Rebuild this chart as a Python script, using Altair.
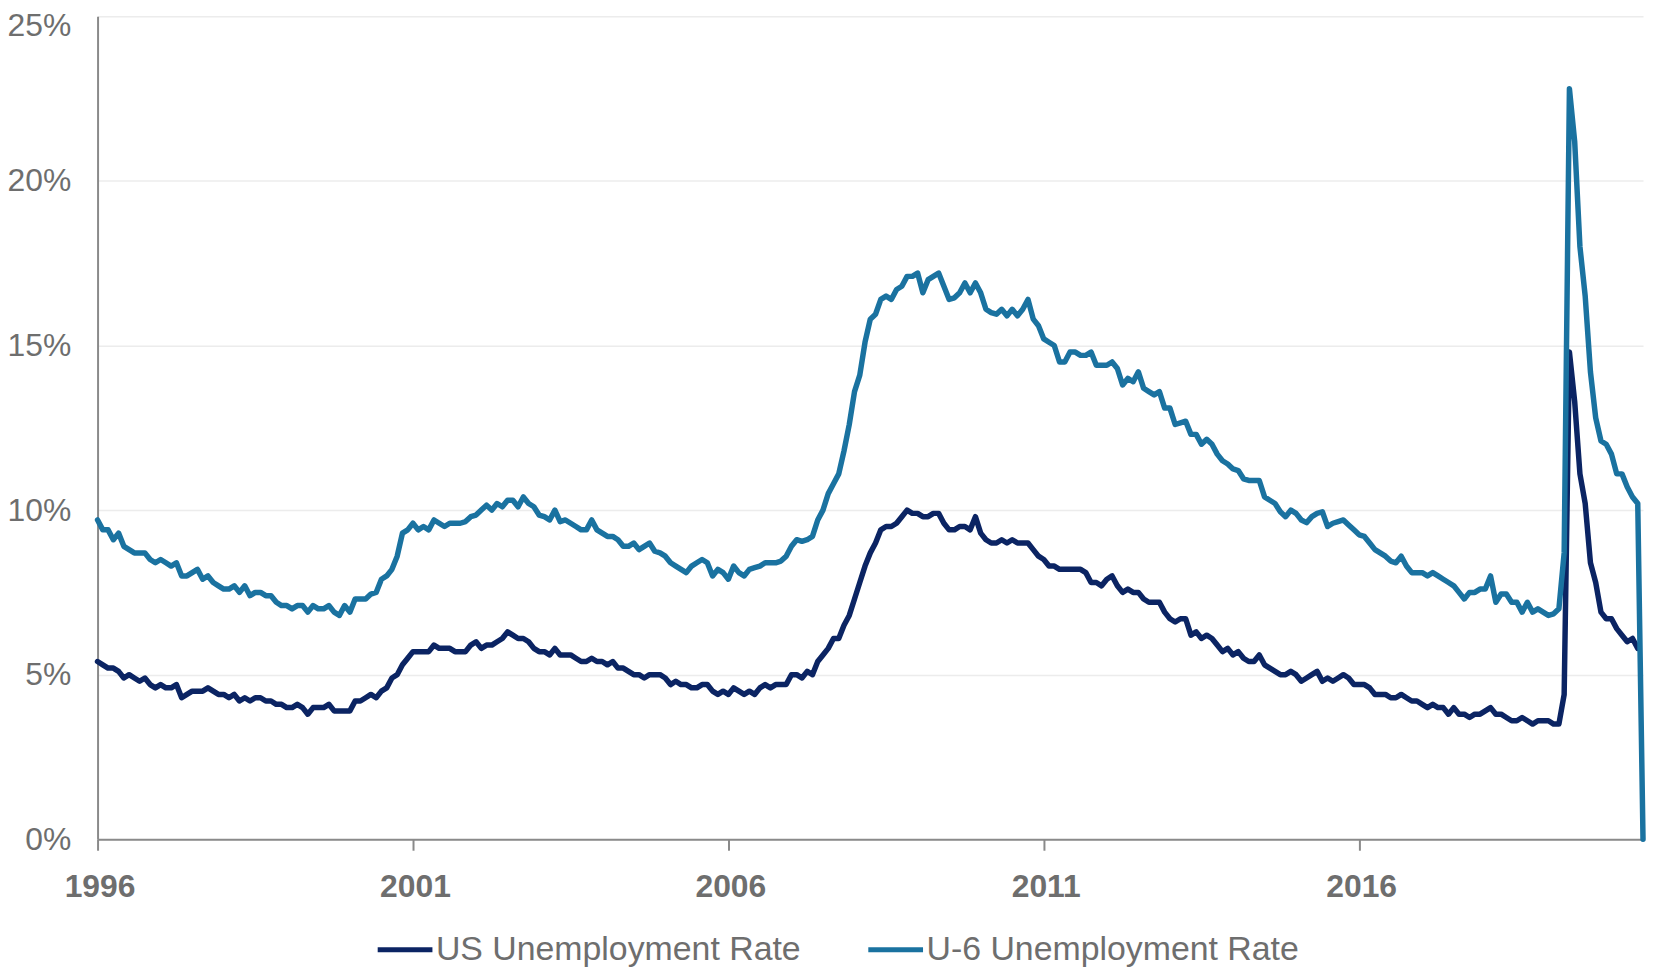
import altair as alt
import pandas as pd

series_names = ["US Unemployment Rate", "U-6 Unemployment Rate"]
series_colors = ["#0b2463", "#1a72a0"]

x_tick_labels = ["1996", "2001", "2006", "2011", "2016"]
x_tick_months = [0, 60, 120, 180, 240]
y_ticks = [0, 5, 10, 15, 20, 25]

# monthly values, Dec 1996 onward
us_rate = [
    5.4,
    5.3, 5.2, 5.2, 5.1, 4.9, 5.0, 4.9, 4.8, 4.9, 4.7, 4.6, 4.7,
    4.6, 4.6, 4.7, 4.3, 4.4, 4.5, 4.5, 4.5, 4.6, 4.5, 4.4, 4.4,
    4.3, 4.4, 4.2, 4.3, 4.2, 4.3, 4.3, 4.2, 4.2, 4.1, 4.1, 4.0,
    4.0, 4.1, 4.0, 3.8, 4.0, 4.0, 4.0, 4.1, 3.9, 3.9, 3.9, 3.9,
    4.2, 4.2, 4.3, 4.4, 4.3, 4.5, 4.6, 4.9, 5.0, 5.3, 5.5, 5.7,
    5.7, 5.7, 5.7, 5.9, 5.8, 5.8, 5.8, 5.7, 5.7, 5.7, 5.9, 6.0,
    5.8, 5.9, 5.9, 6.0, 6.1, 6.3, 6.2, 6.1, 6.1, 6.0, 5.8, 5.7,
    5.7, 5.6, 5.8, 5.6, 5.6, 5.6, 5.5, 5.4, 5.4, 5.5, 5.4, 5.4,
    5.3, 5.4, 5.2, 5.2, 5.1, 5.0, 5.0, 4.9, 5.0, 5.0, 5.0, 4.9,
    4.7, 4.8, 4.7, 4.7, 4.6, 4.6, 4.7, 4.7, 4.5, 4.4, 4.5, 4.4,
    4.6, 4.5, 4.4, 4.5, 4.4, 4.6, 4.7, 4.6, 4.7, 4.7, 4.7, 5.0,
    5.0, 4.9, 5.1, 5.0, 5.4, 5.6, 5.8, 6.1, 6.1, 6.5, 6.8, 7.3,
    7.8, 8.3, 8.7, 9.0, 9.4, 9.5, 9.5, 9.6, 9.8, 10.0, 9.9, 9.9,
    9.8, 9.8, 9.9, 9.9, 9.6, 9.4, 9.4, 9.5, 9.5, 9.4, 9.8, 9.3,
    9.1, 9.0, 9.0, 9.1, 9.0, 9.1, 9.0, 9.0, 9.0, 8.8, 8.6, 8.5,
    8.3, 8.3, 8.2, 8.2, 8.2, 8.2, 8.2, 8.1, 7.8, 7.8, 7.7, 7.9,
    8.0, 7.7, 7.5, 7.6, 7.5, 7.5, 7.3, 7.2, 7.2, 7.2, 6.9, 6.7,
    6.6, 6.7, 6.7, 6.2, 6.3, 6.1, 6.2, 6.1, 5.9, 5.7, 5.8, 5.6,
    5.7, 5.5, 5.4, 5.4, 5.6, 5.3, 5.2, 5.1, 5.0, 5.0, 5.1, 5.0,
    4.8, 4.9, 5.0, 5.1, 4.8, 4.9, 4.8, 4.9, 5.0, 4.9, 4.7, 4.7,
    4.7, 4.6, 4.4, 4.4, 4.4, 4.3, 4.3, 4.4, 4.3, 4.2, 4.2, 4.1,
    4.0, 4.1, 4.0, 4.0, 3.8, 4.0, 3.8, 3.8, 3.7, 3.8, 3.8, 3.9,
    4.0, 3.8, 3.8, 3.7, 3.6, 3.6, 3.7, 3.6, 3.5, 3.6, 3.6, 3.6,
    3.5, 3.5, 4.4, 14.8, 13.3, 11.1, 10.2, 8.4, 7.8, 6.9, 6.7, 6.7,
    6.4, 6.2, 6.0, 6.1, 5.8,
]

u6_rate = [
    9.7,
    9.4, 9.4, 9.1, 9.3, 8.9, 8.8, 8.7, 8.7, 8.7, 8.5, 8.4, 8.5,
    8.4, 8.3, 8.4, 8.0, 8.0, 8.1, 8.2, 7.9, 8.0, 7.8, 7.7, 7.6,
    7.6, 7.7, 7.5, 7.7, 7.4, 7.5, 7.5, 7.4, 7.4, 7.2, 7.1, 7.1,
    7.0, 7.1, 7.1, 6.9, 7.1, 7.0, 7.0, 7.1, 6.9, 6.8, 7.1, 6.9,
    7.3, 7.3, 7.3, 7.45, 7.5, 7.9, 8.0, 8.2, 8.6, 9.3, 9.4, 9.6,
    9.4, 9.5, 9.4, 9.7, 9.6, 9.5, 9.6, 9.6, 9.6, 9.65, 9.8, 9.85,
    10.0, 10.15, 10.0, 10.2, 10.1, 10.3, 10.3, 10.1, 10.4, 10.2, 10.1, 9.85,
    9.8, 9.7, 10.0, 9.65, 9.7, 9.6, 9.5, 9.4, 9.4, 9.7, 9.4, 9.3,
    9.2, 9.2, 9.1, 8.9, 8.9, 9.0, 8.8, 8.9, 9.0, 8.75, 8.7, 8.6,
    8.4, 8.3, 8.2, 8.1, 8.3, 8.4, 8.5, 8.4, 8.0, 8.2, 8.1, 7.9,
    8.3, 8.1, 8.0, 8.2, 8.25, 8.3, 8.4, 8.4, 8.4, 8.45, 8.6, 8.9,
    9.1, 9.05, 9.1, 9.2, 9.7, 10.0, 10.5, 10.8, 11.1, 11.8, 12.6, 13.6,
    14.1, 15.1, 15.8, 15.95, 16.4, 16.5, 16.4, 16.7, 16.8, 17.1, 17.1, 17.2,
    16.6, 17.0, 17.1, 17.2, 16.8, 16.4, 16.45, 16.6, 16.9, 16.6, 16.9, 16.6,
    16.1, 16.0, 15.95, 16.1, 15.9, 16.1, 15.9, 16.1, 16.4, 15.8, 15.6, 15.2,
    15.1, 15.0, 14.5, 14.5, 14.8, 14.8, 14.7, 14.7, 14.8, 14.4, 14.4, 14.4,
    14.5, 14.3, 13.8, 14.0, 13.9, 14.2, 13.7, 13.6, 13.5, 13.6, 13.1, 13.1,
    12.6, 12.65, 12.7, 12.3, 12.3, 12.0, 12.15, 12.0, 11.7, 11.5, 11.4, 11.25,
    11.2, 10.95, 10.9, 10.9, 10.9, 10.4, 10.3, 10.2, 9.95, 9.8, 10.0, 9.9,
    9.7, 9.62, 9.8, 9.9, 9.95, 9.5, 9.6, 9.65, 9.7, 9.55, 9.4, 9.25,
    9.2, 9.0, 8.8, 8.7, 8.6, 8.45, 8.4, 8.6, 8.3, 8.1, 8.1, 8.1,
    8.0, 8.1, 8.0, 7.9, 7.8, 7.7, 7.5, 7.3, 7.5, 7.5, 7.6, 7.6,
    8.0, 7.2, 7.45, 7.45, 7.2, 7.2, 6.9, 7.2, 6.9, 7.0, 6.9, 6.8,
    6.85, 7.0, 8.7, 22.8, 21.2, 18.0, 16.5, 14.2, 12.8, 12.1, 12.0, 11.7,
    11.1, 11.1, 10.7, 10.4, 10.2, 0.0,
]

rows = []
for name, vals in zip(series_names, [us_rate, u6_rate]):
    for i, v in enumerate(vals):
        rows.append({"month": i, "rate": v, "series": name})
df = pd.DataFrame(rows)

label_expr = ""
for m, lab in zip(x_tick_months, x_tick_labels):
    label_expr += f"datum.value == {m} ? '{lab}' : "
label_expr += "''"

FONT = "Liberation Sans"
GREY = "#6e6e6e"
AXIS_LINE = "#8a8a8a"

chart = alt.Chart(df).mark_line(
    strokeWidth=5.5, strokeJoin="round", strokeCap="round"
).encode(
    x=alt.X(
        "month:Q",
        scale=alt.Scale(domain=[0, len(u6_rate) - 1], nice=False, zero=False),
        axis=alt.Axis(
            values=x_tick_months, labelExpr=label_expr, title=None, grid=False,
            labelFontSize=32, labelFontWeight="bold", labelColor=GREY, labelFont=FONT,
            labelPadding=21, labelFlush=False, labelOverlap=False, labelOffset=2,
            tickSize=11, tickColor=AXIS_LINE, tickWidth=2,
            domainColor=AXIS_LINE, domainWidth=2,
        ),
    ),
    y=alt.Y(
        "rate:Q",
        scale=alt.Scale(domain=[0, 25], nice=False),
        axis=alt.Axis(
            values=y_ticks, labelExpr="datum.value + '%'", title=None,
            grid=True, gridColor="#ececec", gridWidth=1.5, ticks=False,
            domainColor=AXIS_LINE, domainWidth=2,
            labelFontSize=32, labelColor=GREY, labelFont=FONT,
            labelPadding=27, labelFlush=False, labelOverlap=False,
            labelOffset={"condition": {"test": "datum.value == 25", "value": 9}, "value": 0},
        ),
    ),
    color=alt.Color(
        "series:N",
        scale=alt.Scale(domain=series_names, range=series_colors),
        legend=alt.Legend(
            title=None, orient="none", legendX=279, legendY=908,
            direction="horizontal", symbolType="stroke", symbolSize=3025,
            symbolStrokeWidth=5, labelFontSize=34, labelFont=FONT,
            labelColor=GREY, labelLimit=1000, labelOffset=1,
            columnPadding=57, padding=0,
        ),
    ),
).properties(
    width=1553,
    height=827,
    autosize=alt.AutoSizeParams(type="none"),
    padding={"left": 90, "top": 6, "right": 3, "bottom": 128},
).configure_view(stroke=None)

chart.save("out.html", embed_options={"renderer": "svg", "actions": False})
